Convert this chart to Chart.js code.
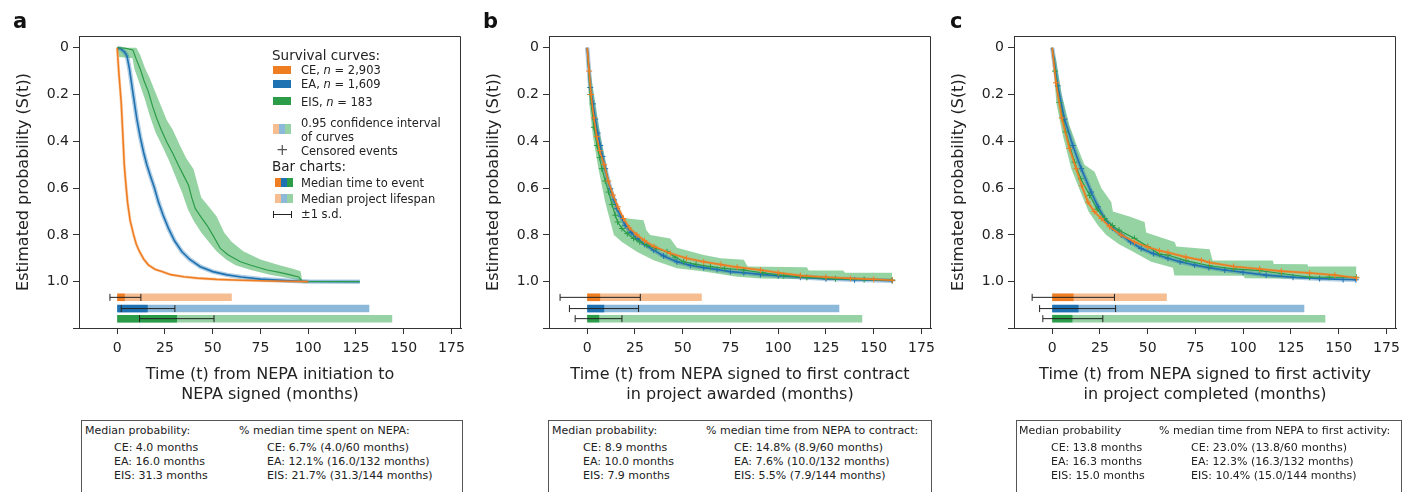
<!DOCTYPE html>
<html>
<head>
<meta charset="utf-8">
<script src="https://cdn.jsdelivr.net/npm/chart.js@4.4.0/dist/chart.umd.min.js"></script>
<style>
  body { margin: 0; background: #fff; width: 1407px; height: 492px; overflow: hidden; position: relative;
         font-family: "DejaVu Sans", sans-serif; color: #222; }
  canvas { position: absolute; top: 0; }
  .abs { position: absolute; white-space: nowrap; }
  .letter { font-weight: bold; font-size: 21px; line-height: 21px; top: 11px; color: #111; }
  .hdr { font-size: 13.5px; line-height: 16px; }
  .itm { font-size: 11.5px; line-height: 14px; }
  .sw { position: absolute; display: flex; }
  .sw span { flex: 1; }
  .box { position: absolute; top: 420px; height: 90px; border: 1px solid #555; box-sizing: border-box; }
  .bt { position: absolute; font-size: 11px; line-height: 14px; white-space: nowrap; }
</style>
</head>
<body>
<canvas id="chartA" width="470" height="420" style="left:0px"></canvas>
<canvas id="chartB" width="470" height="420" style="left:470px"></canvas>
<canvas id="chartC" width="470" height="420" style="left:935px"></canvas>

<div class="abs letter" style="left:13px">a</div>
<div class="abs letter" style="left:483px">b</div>
<div class="abs letter" style="left:950px">c</div>

<!-- legend, panel a -->
<div class="abs hdr" style="left:272px;top:47px">Survival curves:</div>
<div class="sw" style="left:273px;top:66px;width:18px;height:8px;background:#ef7d22"></div>
<div class="abs itm" style="left:301px;top:63px">CE, <i>n</i> = 2,903</div>
<div class="sw" style="left:273px;top:80px;width:18px;height:8px;background:#1f72b2"></div>
<div class="abs itm" style="left:301px;top:77px">EA, <i>n</i> = 1,609</div>
<div class="sw" style="left:273px;top:97px;width:18px;height:8px;background:#2b9c48"></div>
<div class="abs itm" style="left:301px;top:95px">EIS, <i>n</i> = 183</div>
<div class="sw" style="left:273px;top:124px;width:18px;height:10px"><span style="background:#f6bd91"></span><span style="background:#8cb9da"></span><span style="background:#96d2a4"></span></div>
<div class="abs itm" style="left:301px;top:116px">0.95 confidence interval</div>
<div class="abs itm" style="left:301px;top:130px">of curves</div>
<div class="abs" style="left:276px;top:142px;font-size:15px;line-height:17px;color:#555">+</div>
<div class="abs itm" style="left:301px;top:144px">Censored events</div>
<div class="abs hdr" style="left:272px;top:158px">Bar charts:</div>
<div class="sw" style="left:275px;top:178px;width:18px;height:9px"><span style="background:#ef7d22"></span><span style="background:#1f72b2"></span><span style="background:#2b9c48"></span></div>
<div class="abs itm" style="left:301px;top:176px">Median time to event</div>
<div class="sw" style="left:275px;top:194px;width:18px;height:9px"><span style="background:#f6bd91"></span><span style="background:#8cb9da"></span><span style="background:#96d2a4"></span></div>
<div class="abs itm" style="left:301px;top:192px">Median project lifespan</div>
<div class="abs" style="left:273px;top:214px;width:18px;height:1px;background:#222"></div>
<div class="abs" style="left:273px;top:211px;width:1px;height:7px;background:#222"></div>
<div class="abs" style="left:291px;top:211px;width:1px;height:7px;background:#222"></div>
<div class="abs itm" style="left:301px;top:207px">±1 s.d.</div>

<!-- summary boxes -->
<div class="box" style="left:81px;width:382px"></div>
<div class="bt" style="left:85px;top:424px">Median probability:</div>
<div class="bt" style="left:114px;top:441px">CE: 4.0 months<br>EA: 16.0 months<br>EIS: 31.3 months</div>
<div class="bt" style="left:239px;top:424px">% median time spent on NEPA:</div>
<div class="bt" style="left:267px;top:441px">CE: 6.7% (4.0/60 months)<br>EA: 12.1% (16.0/132 months)<br>EIS: 21.7% (31.3/144 months)</div>

<div class="box" style="left:548px;width:384px"></div>
<div class="bt" style="left:552px;top:424px">Median probability:</div>
<div class="bt" style="left:583px;top:441px">CE: 8.9 months<br>EA: 10.0 months<br>EIS: 7.9 months</div>
<div class="bt" style="left:706px;top:424px">% median time from NEPA to contract:</div>
<div class="bt" style="left:734px;top:441px">CE: 14.8% (8.9/60 months)<br>EA: 7.6% (10.0/132 months)<br>EIS: 5.5% (7.9/144 months)</div>

<div class="box" style="left:1016px;width:386px"></div>
<div class="bt" style="left:1019px;top:424px">Median probability</div>
<div class="bt" style="left:1051px;top:441px">CE: 13.8 months<br>EA: 16.3 months<br>EIS: 15.0 months</div>
<div class="bt" style="left:1159px;top:424px">% median time from NEPA to first activity:</div>
<div class="bt" style="left:1191px;top:441px">CE: 23.0% (13.8/60 months)<br>EA: 12.3% (16.3/132 months)<br>EIS: 10.4% (15.0/144 months)</div>

<script>
// axis ticks
const ticksX = [0, 25, 50, 75, 100, 125, 150, 175];
const ticksY = [0, 0.2, 0.4, 0.6, 0.8, 1.0];
const groups = ["CE", "EA", "EIS"];
const rowY = [1.067, 1.115, 1.158]; // bar rows under the curves

// ---- panel a: NEPA initiation -> NEPA signed
const aT_CE = [0, 0.8, 2.1, 3, 3.7, 4.5, 5.4, 6.8, 8.6, 10, 11.7, 14, 16.4, 20, 23.4, 28, 34.8, 42, 52, 65, 80, 100];
const aV_CE = [0, 0.1, 0.234, 0.38, 0.5, 0.58, 0.66, 0.74, 0.8, 0.84, 0.872, 0.905, 0.929, 0.948, 0.957, 0.97, 0.979, 0.985, 0.99, 0.994, 0.997, 1.0];
const aT_EA = [0, 2, 4, 5.1, 6.4, 7.7, 9, 10.3, 12, 13.8, 15.5, 17.3, 19.5, 21.6, 24, 26.9, 30, 33.9, 38, 43.5, 50, 57.5, 65, 75, 88, 100, 127];
const aV_EA = [0, 0.005, 0.02, 0.035, 0.09, 0.163, 0.235, 0.305, 0.38, 0.447, 0.5, 0.546, 0.6, 0.66, 0.715, 0.773, 0.825, 0.872, 0.905, 0.936, 0.957, 0.971, 0.98, 0.989, 0.995, 0.999, 1.0];
const aT_EIS = [0, 4, 8.2, 10, 12.1, 14, 16.4, 18.5, 20.8, 23, 26, 29, 32.1, 35, 37.4, 39, 40.9, 44, 47, 50, 54, 58, 64.5, 70, 78.5, 85, 90.7, 95, 97, 127];
const aV_EIS = [0, 0.002, 0.01, 0.05, 0.092, 0.14, 0.19, 0.25, 0.305, 0.35, 0.404, 0.45, 0.503, 0.55, 0.589, 0.64, 0.688, 0.725, 0.759, 0.8, 0.858, 0.885, 0.915, 0.93, 0.95, 0.96, 0.971, 0.98, 1.0, 1.0];
const aBandHiT = [0, 10, 12, 14.7, 17, 20, 23, 26, 29, 33, 36, 40, 42, 44, 48, 52, 56, 60, 66, 75, 85, 92, 96, 97];
const aBandHiV = [0, 0, 0.03, 0.09, 0.13, 0.19, 0.25, 0.31, 0.35, 0.42, 0.47, 0.52, 0.58, 0.64, 0.68, 0.72, 0.79, 0.83, 0.87, 0.905, 0.93, 0.945, 0.955, 1.0];
const aBandLoT = [0, 1, 8, 9, 12, 14.5, 17, 20, 23, 27, 31, 34, 37, 40, 44, 48, 52, 57, 62, 70, 80, 90, 96, 97];
const aBandLoV = [0, 0.04, 0.045, 0.09, 0.16, 0.22, 0.29, 0.36, 0.41, 0.48, 0.56, 0.62, 0.69, 0.74, 0.79, 0.83, 0.87, 0.905, 0.93, 0.95, 0.97, 0.985, 0.995, 1.0];
const aLifespan = [60, 132, 144];
const aMedianBar = [4.0, 16.0, 31.3];
const aSdLo = [-3.8, 2.1, 11.7];
const aSdHi = [12.4, 30.2, 50.7];

// ---- panel b: NEPA signed -> first contract awarded
const bT_CE = [0, 1, 2, 3.5, 5, 6.5, 8.9, 11, 13.5, 16, 19, 22, 26, 30, 35, 43.5, 52, 61, 70, 78.5, 90.7, 100, 111.6, 125, 137.8, 150, 159.7];
const bV_CE = [0, 0.1, 0.2, 0.3, 0.38, 0.44, 0.5, 0.57, 0.63, 0.68, 0.73, 0.77, 0.8, 0.825, 0.85, 0.879, 0.9, 0.915, 0.927, 0.938, 0.95, 0.962, 0.974, 0.981, 0.986, 0.99, 0.994];
const bT_EA = [0, 1.6, 3, 4.2, 5.5, 6.8, 8, 9.4, 12.1, 14, 15.6, 17.5, 19.9, 23, 26, 30, 34.8, 40, 47, 54, 61, 68, 75, 82, 90.7, 100, 111.6, 125, 140, 159.7];
const bV_EA = [0, 0.17, 0.24, 0.305, 0.365, 0.418, 0.465, 0.517, 0.603, 0.65, 0.688, 0.72, 0.759, 0.79, 0.815, 0.84, 0.865, 0.89, 0.915, 0.93, 0.94, 0.948, 0.957, 0.962, 0.969, 0.975, 0.981, 0.988, 0.992, 0.996];
const bT_EIS = [0, 1.6, 3.5, 5.1, 6.5, 7.7, 9.5, 11.2, 13, 14.7, 16, 18.2, 21, 24.3, 27.5, 31.3, 36, 41.8, 46, 50.5, 57, 64.5, 72, 81.9, 92, 102.9, 115, 130, 145, 159.7];
const bV_EIS = [0, 0.2, 0.34, 0.418, 0.47, 0.517, 0.57, 0.617, 0.67, 0.716, 0.745, 0.773, 0.795, 0.815, 0.83, 0.844, 0.858, 0.872, 0.895, 0.915, 0.926, 0.936, 0.943, 0.95, 0.962, 0.974, 0.982, 0.988, 0.991, 0.993];
const bBandHiT = [0, 2, 4.2, 7, 10.3, 13.8, 16, 19, 29.5, 31, 33, 43.5, 47, 61, 70, 82, 84, 115, 116, 134, 135, 159.7];
const bBandHiV = [0, 0.12, 0.234, 0.38, 0.517, 0.66, 0.7, 0.728, 0.737, 0.78, 0.8, 0.815, 0.855, 0.886, 0.9, 0.906, 0.935, 0.938, 0.952, 0.952, 0.962, 0.962];
const bBandLoT = [0, 1, 3, 5.9, 9.4, 12, 14, 18.2, 26, 34.8, 47, 61, 78.5, 90.7, 120, 159.7];
const bBandLoV = [0, 0.234, 0.38, 0.517, 0.66, 0.74, 0.8, 0.83, 0.872, 0.908, 0.943, 0.957, 0.979, 0.986, 0.99, 0.995];
const bLifespan = [60, 132, 144];
const bMedianBar = [6.8, 8.9, 6.3];
const bSdLo = [-14.2, -9.3, -6.3];
const bSdHi = [27.8, 26.9, 18.2];

// ---- panel c: NEPA signed -> first activity completed
const cT_CE = [0, 2, 5, 9, 12.6, 15.5, 18.7, 22, 25.7, 30, 36, 43.1, 50, 56.2, 60.6, 70, 78.1, 82.4, 95, 108.6, 120, 134.8, 148, 159.3];
const cV_CE = [0, 0.15, 0.3, 0.43, 0.517, 0.59, 0.66, 0.7, 0.73, 0.765, 0.8, 0.83, 0.852, 0.868, 0.875, 0.895, 0.908, 0.918, 0.935, 0.946, 0.955, 0.963, 0.972, 0.984];
const cT_EA = [0, 2.9, 6.4, 10.8, 15.2, 20.4, 24, 27.4, 31.5, 36.2, 41, 46.6, 53, 60.6, 67, 74.6, 82, 90.3, 99.9, 112, 126.1, 140, 152.3, 159];
const cV_EA = [0, 0.163, 0.305, 0.418, 0.517, 0.617, 0.68, 0.73, 0.77, 0.8, 0.83, 0.858, 0.88, 0.9, 0.915, 0.929, 0.94, 0.95, 0.96, 0.972, 0.981, 0.987, 0.991, 0.992];
const cT_EIS = [0, 1.5, 3.8, 7, 11.7, 15, 19.6, 23.5, 27.4, 31.5, 35, 43.1, 50, 56.2, 60.6, 70, 82.4, 95, 108.6, 120, 134.8, 145, 159.3];
const cV_EIS = [0, 0.1, 0.234, 0.36, 0.489, 0.56, 0.631, 0.69, 0.73, 0.76, 0.78, 0.815, 0.85, 0.882, 0.886, 0.91, 0.932, 0.945, 0.953, 0.965, 0.981, 0.981, 0.981];
const cBandHiT = [0, 2, 5, 9, 13, 16.9, 22.2, 25.7, 30.9, 31.8, 40, 48.4, 49.2, 64.1, 65, 82.4, 84, 115.5, 116, 133.6, 134, 159.3];
const cBandHiV = [0, 0.05, 0.2, 0.33, 0.42, 0.5, 0.53, 0.6, 0.66, 0.7, 0.72, 0.745, 0.79, 0.83, 0.85, 0.861, 0.91, 0.91, 0.924, 0.925, 0.935, 0.935];
const cBandLoT = [0, 1, 2.1, 5.6, 10, 15, 19, 24, 28.3, 35, 43.1, 51.8, 63.2, 64, 100, 101, 159.3];
const cBandLoV = [0, 0.1, 0.234, 0.376, 0.517, 0.62, 0.7, 0.76, 0.8, 0.84, 0.875, 0.915, 0.94, 0.974, 0.975, 0.985, 0.99];
const cLifespan = [60, 132, 143];
const cMedianBar = [11.2, 13.8, 10.6];
const cSdLo = [-10.5, -6.6, -4.9];
const cSdHi = [32.6, 33.2, 26.5];

const DARK = ["#ef7d22", "#1f72b2", "#2b9c48"];
const LIGHT = ["#f6bd91", "#8cb9da", "#96d2a4"];
const BAND = ["rgba(239,125,34,0.3)", "rgba(31,114,178,0.35)", "rgba(62,175,88,0.55)"];
const BAND_W = [3, 4.5];
const NONE = "rgba(0,0,0,0)";

Chart.defaults.font.family = '"DejaVu Sans", sans-serif';
Chart.defaults.color = "#222";

const pts = (T, V) => T.map((t, i) => ({ x: t, y: V[i] }));

// box round the plot (top and right edges; bottom line runs a bit past the left spine)
const frame = {
  id: "frame",
  afterDraw(chart) {
    const { ctx, chartArea: { left, top, right, bottom } } = chart;
    ctx.save();
    ctx.strokeStyle = "#333";
    ctx.lineWidth = 1;
    ctx.beginPath();
    ctx.moveTo(left, top + 0.5);
    ctx.lineTo(right - 0.5, top + 0.5);
    ctx.lineTo(right - 0.5, bottom);
    ctx.moveTo(left - 6, bottom + 0.5);
    ctx.lineTo(left, bottom + 0.5);
    ctx.stroke();
    ctx.restore();
  }
};

function makePanel(id, p) {
  const ds = [];
  // 0.95 CI of EIS curve
  ds.push({ data: pts(p.hiT, p.hiV), fill: "+1", backgroundColor: BAND[2], borderColor: NONE, borderWidth: 0, pointRadius: 0 });
  ds.push({ data: pts(p.loT, p.loV), fill: false, borderColor: NONE, borderWidth: 0, pointRadius: 0 });
  // narrow CI of CE and EA
  [0, 1].forEach(k => ds.push({ data: pts(p.T[k], p.V[k]), borderColor: BAND[k], borderWidth: BAND_W[k], pointRadius: 0 }));
  // survival curves
  [1, 2, 0].forEach(k => ds.push({
    data: pts(p.T[k], p.V[k]),
    borderColor: DARK[k],
    borderWidth: k === 2 ? 1.2 : 1.6,
    pointStyle: "cross",
    pointRadius: c => (p.censor && c.dataIndex > 0) ? 3 : 0,
    pointBorderColor: DARK[k],
    pointBorderWidth: 1
  }));
  // bar charts
  for (let k = 0; k < 3; k++) {
    ds.push({ data: [{ x: 0, y: rowY[k] }, { x: p.life[k], y: rowY[k] }], borderColor: LIGHT[k], borderWidth: 7.5, borderCapStyle: "butt", pointRadius: 0 });
  }
  for (let k = 0; k < 3; k++) {
    ds.push({ data: [{ x: 0, y: rowY[k] }, { x: p.med[k], y: rowY[k] }], borderColor: DARK[k], borderWidth: 7.5, borderCapStyle: "butt", pointRadius: 0 });
  }
  for (let k = 0; k < 3; k++) {
    ds.push({
      data: [{ x: p.sdLo[k], y: rowY[k] }, { x: p.sdHi[k], y: rowY[k] }],
      borderColor: "#222", borderWidth: 1,
      pointStyle: "line", pointRotation: 90, pointRadius: 3.5,
      pointBorderColor: "#222", pointBorderWidth: 1
    });
  }
  ds.forEach((d, i) => { d.order = -i; d.tension = 0; d.label = i < 8 ? "" : groups[i % 3]; });

  return new Chart(document.getElementById(id), {
    type: "line",
    data: { datasets: ds },
    options: {
      responsive: false,
      animation: false,
      events: [],
      layout: { padding: { left: 0, top: 36, right: 9, bottom: 0 } },
      plugins: { legend: { display: false }, tooltip: { enabled: false } },
      scales: {
        x: {
          type: "linear", min: -20, max: 180,
          afterBuildTicks: ax => { ax.ticks = ticksX.map(v => ({ value: v })); },
          afterFit: ax => { ax.height = 92; ax.paddingLeft = 0; ax.paddingRight = 0; },
          ticks: { font: { size: 14 }, padding: 6, autoSkip: false, maxRotation: 0 },
          grid: { drawOnChartArea: false, tickLength: 6, color: "#333" },
          border: { color: "#333" },
          title: { display: true, text: p.xTitle, font: { size: 16 }, color: "#222", padding: { top: 0, bottom: 16 } }
        },
        y: {
          type: "linear", reverse: true, min: -0.05, max: 1.198,
          afterBuildTicks: ax => { ax.ticks = ticksY.map(v => ({ value: v })); },
          afterFit: ax => { ax.width = 79; ax.paddingTop = 0; ax.paddingBottom = 0; },
          ticks: { font: { size: 14 }, padding: 4, callback: v => v === 0 ? "0" : v.toFixed(1) },
          grid: { drawOnChartArea: false, tickLength: 6, color: "#333" },
          border: { color: "#333" },
          title: { display: true, text: "Estimated probability (S(t))", font: { size: 16 }, color: "#222", padding: { top: 14, bottom: 0 } }
        }
      }
    },
    plugins: [frame]
  });
}

makePanel("chartA", {
  T: [aT_CE, aT_EA, aT_EIS], V: [aV_CE, aV_EA, aV_EIS],
  hiT: aBandHiT, hiV: aBandHiV, loT: aBandLoT, loV: aBandLoV,
  life: aLifespan, med: aMedianBar, sdLo: aSdLo, sdHi: aSdHi, censor: false,
  xTitle: ["Time (t) from NEPA initiation to", "NEPA signed (months)"]
});
makePanel("chartB", {
  T: [bT_CE, bT_EA, bT_EIS], V: [bV_CE, bV_EA, bV_EIS],
  hiT: bBandHiT, hiV: bBandHiV, loT: bBandLoT, loV: bBandLoV,
  life: bLifespan, med: bMedianBar, sdLo: bSdLo, sdHi: bSdHi, censor: true,
  xTitle: ["Time (t) from NEPA signed to first contract", "in project awarded (months)"]
});
makePanel("chartC", {
  T: [cT_CE, cT_EA, cT_EIS], V: [cV_CE, cV_EA, cV_EIS],
  hiT: cBandHiT, hiV: cBandHiV, loT: cBandLoT, loV: cBandLoV,
  life: cLifespan, med: cMedianBar, sdLo: cSdLo, sdHi: cSdHi, censor: true,
  xTitle: ["Time (t) from NEPA signed to first activity", "in project completed (months)"]
});
</script>
</body>
</html>
